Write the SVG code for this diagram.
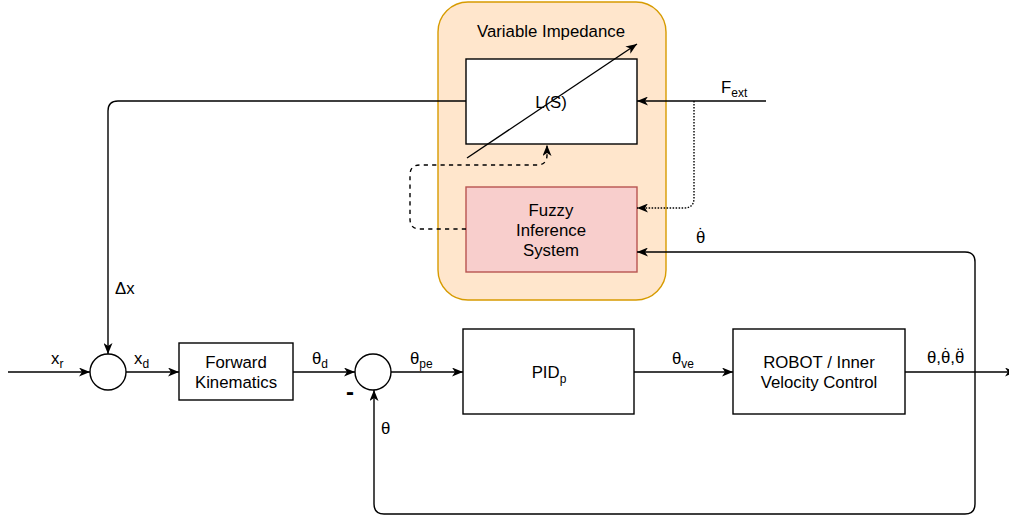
<svg xmlns="http://www.w3.org/2000/svg" width="1009" height="520" viewBox="0 0 1009 520">
<style>
text{font-family:"Liberation Sans",Arial,Helvetica,sans-serif;font-size:16.8px;fill:#000}
.c{text-anchor:middle}
.sub{font-size:12px}
.box{fill:#fff;stroke:#000;stroke-width:1.4}
.ln{fill:none;stroke:#000;stroke-width:1.4}
.arr{marker-end:url(#ah)}
</style>
<defs>
<marker id="ah" viewBox="0 0 11 9" refX="11" refY="4.5" markerWidth="11" markerHeight="9" orient="auto" markerUnits="userSpaceOnUse">
<path d="M0,0 L11,4.5 L0,9 L3,4.5 Z" fill="#000"/>
</marker>
</defs>
<rect width="1009" height="520" fill="#fff"/>
<g id="variable-impedance">
<rect x="438" y="2" width="228" height="298" rx="30" fill="#ffe6cc" stroke="#d79b00" stroke-width="1.4"/>
<text class="c" x="551" y="37">Variable Impedance</text>
</g>
<g id="ls">
<rect class="box" x="466" y="59" width="171" height="85"/>
<text class="c" x="551" y="108">L(S)</text>
<path class="ln arr" d="M467,158 L637,44"/>
</g>
<g id="fuzzy">
<rect x="466" y="187" width="171" height="85" fill="#f8cecc" stroke="#b85450" stroke-width="1.4"/>
<text class="c" x="551" y="216">Fuzzy</text>
<text class="c" x="551" y="236">Inference</text>
<text class="c" x="551" y="256">System</text>
</g>
<g id="sum1">
<circle class="box" cx="108" cy="372" r="18"/>
</g>
<g id="fk">
<rect class="box" x="179" y="343" width="114" height="57"/>
<text class="c" x="236" y="368">Forward</text>
<text class="c" x="236" y="388">Kinematics</text>
</g>
<g id="sum2">
<circle class="box" cx="373" cy="372" r="18"/>
<text x="346" y="400" style="font-weight:bold;font-size:24px">-</text>
</g>
<g id="pid">
<rect class="box" x="463" y="329" width="171" height="85"/>
<text class="c" x="549" y="378">PID<tspan class="sub" dy="5">p</tspan></text>
</g>
<g id="robot">
<rect class="box" x="733" y="329" width="172" height="85"/>
<text class="c" x="819" y="368">ROBOT / Inner</text>
<text class="c" x="819" y="388">Velocity Control</text>
</g>
<g id="connectors">
<path class="ln arr" d="M8,372 L90,372"/>
<path class="ln arr" d="M466,101 L118,101 Q108,101 108,111 L108,354"/>
<path class="ln arr" d="M126,372 L179,372"/>
<path class="ln arr" d="M293,372 L355,372"/>
<path class="ln arr" d="M391,372 L463,372"/>
<path class="ln arr" d="M634,372 L733,372"/>
<path class="ln arr" d="M905,372 L1016,372"/>
<path class="ln arr" d="M975,372 L975,262 Q975,252 965,252 L637,252"/>
<path class="ln arr" d="M975,372 L975,504 Q975,514 965,514 L384,514 Q374,514 374,504 L374,390"/>
<path class="ln arr" d="M766,101 L637,101"/>
<path class="ln arr" d="M694,101 L694,198 Q694,208 684,208 L637,208" stroke-dasharray="1.5 1.5"/>
<path class="ln arr" d="M466,229 L420,229 Q410,229 410,219 L410,175 Q410,165 420,165 L537,165 Q547,165 547,155 L547,145" stroke-dasharray="4.2 4.2"/>
</g>
<g id="labels">
<text x="51" y="364">x<tspan class="sub" dy="4">r</tspan></text>
<text x="134" y="364">x<tspan class="sub" dy="4">d</tspan></text>
<text x="312" y="364">θ<tspan class="sub" dy="4">d</tspan></text>
<text x="410" y="364">θ<tspan class="sub" dy="4">pe</tspan></text>
<text x="672" y="364">θ<tspan class="sub" dy="4">ve</tspan></text>
<text x="927" y="363">θ,θ<tspan dx="-7.2" dy="-3.5">˙</tspan><tspan dx="1.6" dy="3.5">,θ</tspan><tspan dx="-7.2" dy="-3.5">¨</tspan></text>
<text x="381" y="434">θ</text>
<text x="115" y="294">Δx</text>
<text x="696" y="243">θ<tspan dx="-7.2" dy="-3.5">˙</tspan></text>
<text x="721" y="93">F<tspan class="sub" dy="4">ext</tspan></text>
</g>
</svg>
